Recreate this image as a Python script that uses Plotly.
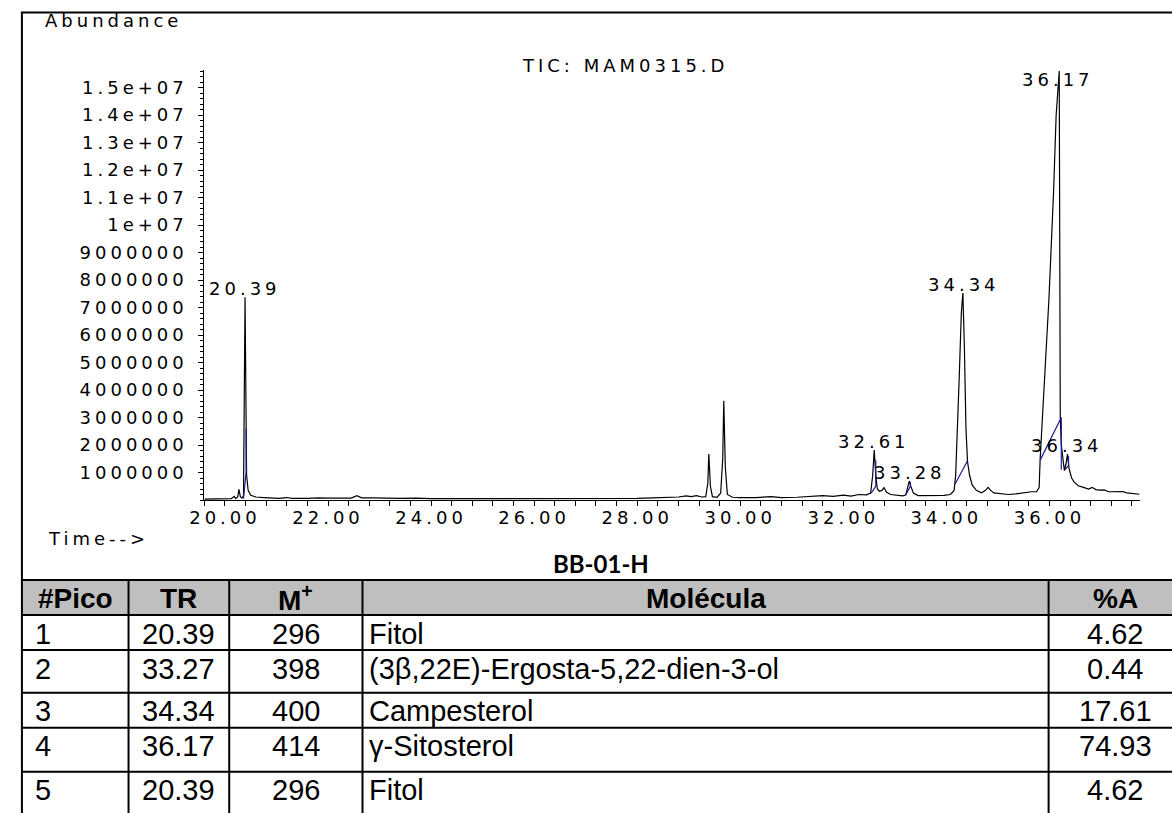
import plotly.graph_objects as go

W, H = 1172, 813

# ---------------- data ----------------
time_min = [19.60, 19.80, 20.00, 20.12, 20.18, 20.21, 20.25, 20.27, 20.30, 20.33,
            20.36, 20.39, 20.42, 20.45, 20.50, 20.60, 20.75, 20.90, 21.05, 21.20,
            21.30, 21.60, 21.80, 22.00, 22.20, 22.45, 22.56, 22.65, 22.90, 23.10,
            23.40, 23.70, 24.00, 24.50, 25.00, 25.50, 26.00, 26.50, 27.00, 27.50,
            28.00, 28.30, 28.60, 28.80, 28.95, 29.05, 29.15, 29.25, 29.33, 29.37,
            29.39, 29.42, 29.46, 29.55, 29.62, 29.66, 29.68, 29.71, 29.75, 29.85,
            30.00, 30.30, 30.60, 30.80, 31.10, 31.40, 31.60, 31.80, 32.00, 32.15,
            32.30, 32.45, 32.53, 32.57, 32.60, 32.63, 32.66, 32.70, 32.75, 32.79,
            32.84, 32.92, 33.05, 33.15, 33.21, 33.25, 33.28, 33.31, 33.36, 33.45,
            33.60, 33.80, 33.95, 34.08, 34.15, 34.18, 34.21, 34.25, 34.29, 34.32,
            34.35, 34.38, 34.41, 34.45, 34.50, 34.58, 34.68, 34.76, 34.81, 34.86,
            34.92, 35.05, 35.20, 35.35, 35.45, 35.55, 35.65, 35.75, 35.80, 35.82,
            35.90, 35.99, 36.08, 36.13, 36.19, 36.20, 36.21, 36.23, 36.26, 36.29,
            36.32, 36.35, 36.38, 36.43, 36.48, 36.56, 36.66, 36.76, 36.83, 36.90,
            36.98, 37.06, 37.15, 37.25, 37.35, 37.42, 37.50, 37.60, 37.70, 37.75]
abundance = [0.03e6, 0.04e6, 0.05e6, 0.05e6, 0.13e6, 0.05e6, 0.12e6, 0.39e6, 0.12e6, 0.07e6,
             0.15e6, 7.37e6, 0.90e6, 0.35e6, 0.17e6, 0.11e6, 0.09e6, 0.08e6, 0.06e6, 0.09e6,
             0.06e6, 0.06e6, 0.08e6, 0.07e6, 0.08e6, 0.07e6, 0.16e6, 0.08e6, 0.08e6, 0.07e6,
             0.06e6, 0.07e6, 0.05e6, 0.05e6, 0.05e6, 0.05e6, 0.05e6, 0.06e6, 0.06e6, 0.06e6,
             0.06e6, 0.08e6, 0.09e6, 0.11e6, 0.15e6, 0.12e6, 0.16e6, 0.11e6, 0.12e6, 0.60e6,
             1.67e6, 0.50e6, 0.12e6, 0.10e6, 0.25e6, 1.50e6, 3.61e6, 1.20e6, 0.20e6, 0.10e6,
             0.09e6, 0.09e6, 0.12e6, 0.09e6, 0.10e6, 0.12e6, 0.16e6, 0.13e6, 0.18e6, 0.14e6,
             0.20e6, 0.19e6, 0.25e6, 0.90e6, 1.82e6, 0.90e6, 0.40e6, 0.32e6, 0.35e6, 0.45e6,
             0.28e6, 0.20e6, 0.18e6, 0.15e6, 0.18e6, 0.45e6, 0.69e6, 0.50e6, 0.25e6, 0.16e6,
             0.16e6, 0.15e6, 0.17e6, 0.20e6, 0.35e6, 0.90e6, 2.20e6, 4.50e6, 6.80e6, 7.53e6,
             5.50e6, 2.60e6, 1.40e6, 0.90e6, 0.55e6, 0.35e6, 0.26e6, 0.35e6, 0.46e6, 0.35e6,
             0.26e6, 0.22e6, 0.20e6, 0.22e6, 0.25e6, 0.27e6, 0.30e6, 0.30e6, 0.45e6, 1.50e6,
             4.40e6, 7.30e6, 11.2e6, 14.0e6, 15.6e6, 9.00e6, 3.00e6, 2.00e6, 1.40e6, 1.07e6,
             1.30e6, 1.67e6, 1.15e6, 0.80e6, 0.65e6, 0.52e6, 0.46e6, 0.40e6, 0.46e6, 0.38e6,
             0.36e6, 0.37e6, 0.30e6, 0.30e6, 0.29e6, 0.31e6, 0.26e6, 0.24e6, 0.22e6, 0.21e6]

# integration baselines (blue), segments separated by None
integ_time = [20.36, 20.41, 20.41, None,
              32.54, 32.63, 32.63, None,
              33.21, 33.30, 33.30, None,
              34.17, 34.41, None,
              35.82, 36.23, 36.23, None,
              36.30, 36.37, 36.37]
integ_abund = [0.05e6, 1.00e6, 2.60e6, None,
               0.25e6, 0.50e6, 1.45e6, None,
               0.18e6, 0.50e6, 0.66e6, None,
               0.58e6, 1.43e6, None,
               1.45e6, 3.00e6, 1.10e6, None,
               1.10e6, 1.25e6, 1.60e6]

peak_labels = ["20.39", "32.61", "33.28", "34.34", "36.17", "36.34"]
peak_label_time = [20.39, 32.60, 33.29, 34.35, 36.16, 36.35]
peak_label_abund = [7.37e6, 1.82e6, 0.69e6, 7.53e6, 15.6e6, 1.67e6]

y_tick_vals = [1e6, 2e6, 3e6, 4e6, 5e6, 6e6, 7e6, 8e6, 9e6, 10e6, 11e6, 12e6, 13e6, 14e6, 15e6]
y_tick_text = ["1000000", "2000000", "3000000", "4000000", "5000000", "6000000",
               "7000000", "8000000", "9000000", "1e+07", "1.1e+07", "1.2e+07",
               "1.3e+07", "1.4e+07", "1.5e+07"]
x_tick_vals = [20, 22, 24, 26, 28, 30, 32, 34, 36]
x_tick_text = ["20.00", "22.00", "24.00", "26.00", "28.00", "30.00", "32.00", "34.00", "36.00"]

chart_title = "TIC: MAM0315.D"
y_label = "Abundance"
x_label = "Time-->"
sample_name = "BB-01-H"

table_header = ["#Pico", "TR", "M<sup>+</sup>", "Molécula", "%A"]
col_pico = ["1", "2", "3", "4", "5"]
col_tr = ["20.39", "33.27", "34.34", "36.17", "20.39"]
col_mplus = ["296", "398", "400", "414", "296"]
col_molecula = ["Fitol", "(3β,22E)-Ergosta-5,22-dien-3-ol", "Campesterol", "γ-Sitosterol", "Fitol"]
col_area = ["4.62", "0.44", "17.61", "74.93", "4.62"]

# ---------------- layout geometry (pixels) ----------------
def px(x):
    return x / W

def py(y):
    return 1 - y / H

def wide(s):
    # the chromatogram text is horizontally stretched in the source image
    return '<span style="letter-spacing:4px">' + s + '</span>'

PLOT_L, PLOT_R, PLOT_T, PLOT_B = 191.8, 1139.2, 70, 500
CHART_FONT = dict(family="DejaVu Sans", size=18, color="black")
TABLE_FONT = "Liberation Sans"

fig = go.Figure()
fig.add_trace(go.Scatter(x=time_min, y=abundance, mode="lines",
                         line=dict(color="black", width=1.2), hoverinfo="skip",
                         showlegend=False))
fig.add_trace(go.Scatter(x=integ_time, y=integ_abund, mode="lines",
                         line=dict(color="#1a1a9c", width=1.2), hoverinfo="skip",
                         showlegend=False, connectgaps=False))

annotations = []
for lbl, t, a in zip(peak_labels, peak_label_time, peak_label_abund):
    at_top = a >= 15.0e6
    annotations.append(dict(x=t, y=a, xref="x", yref="y", text=wide(lbl), showarrow=False,
                            xanchor="center", yanchor="top" if at_top else "bottom",
                            yshift=4 if at_top else -4, font=CHART_FONT))

annotations += [
    dict(x=px(28), y=py(21), xref="paper", yref="paper", text=wide(y_label), showarrow=False,
         xanchor="left", yanchor="middle", font=CHART_FONT),
    dict(x=px(618), y=py(65), xref="paper", yref="paper", text=wide(chart_title), showarrow=False,
         xanchor="center", yanchor="middle", font=CHART_FONT),
    dict(x=px(31), y=py(538), xref="paper", yref="paper", text=wide(x_label), showarrow=False,
         xanchor="left", yanchor="middle", font=CHART_FONT),
    dict(x=px(594), y=py(563), xref="paper", yref="paper", text="<b>" + sample_name + "</b>",
         showarrow=False, xanchor="center", yanchor="middle",
         font=dict(family="Lato", size=24, color="black")),
]

# table geometry
col_x = [7, 115, 217, 352, 1047, 1182]
row_y = [580, 615, 650, 692.7, 727.7, 771.7, 813]

shapes = []
shapes.append(dict(type="rect", xref="paper", yref="paper", x0=px(col_x[0]), x1=px(col_x[-1] + 10),
                   y0=py(row_y[0]), y1=py(row_y[1]), fillcolor="#bfbfbf", line=dict(width=0),
                   layer="below"))
for y in row_y[:-1]:
    shapes.append(dict(type="line", xref="paper", yref="paper", x0=px(col_x[0]), x1=px(col_x[-1] + 10),
                       y0=py(y), y1=py(y), line=dict(color="black", width=2)))
for x in col_x[1:-1]:
    shapes.append(dict(type="line", xref="paper", yref="paper", x0=px(x), x1=px(x),
                       y0=py(row_y[0]), y1=py(row_y[-1] + 5), line=dict(color="black", width=2)))
# outer frame
shapes.append(dict(type="line", xref="paper", yref="paper", x0=px(7), x1=px(7),
                   y0=py(12), y1=py(H + 5), line=dict(color="black", width=2)))
shapes.append(dict(type="line", xref="paper", yref="paper", x0=px(6), x1=px(W + 5),
                   y0=py(12.5), y1=py(12.5), line=dict(color="black", width=2)))

hdr_font = dict(family=TABLE_FONT, size=28, color="black")
for i, h in enumerate(table_header):
    cx = (col_x[i] + col_x[i + 1]) / 2
    annotations.append(dict(x=px(cx), y=py(598), xref="paper", yref="paper",
                            text="<b>" + h + "</b>", showarrow=False, xanchor="center",
                            yanchor="middle", font=hdr_font))

body_font = dict(family=TABLE_FONT, size=29, color="black")
for r in range(5):
    cy = row_y[r + 1] + 18.5
    cells = [col_pico[r], col_tr[r], col_mplus[r], col_molecula[r], col_area[r]]
    for c, txt in enumerate(cells):
        if c in (0, 3):
            x = col_x[c] + (11 if c == 0 else 5)
            xa = "left"
        else:
            x = (col_x[c] + col_x[c + 1]) / 2
            xa = "center"
        annotations.append(dict(x=px(x), y=py(cy), xref="paper", yref="paper", text=txt,
                                showarrow=False, xanchor=xa, yanchor="middle", font=body_font))

fig.update_layout(
    width=W, height=H, margin=dict(l=0, r=0, t=0, b=0),
    paper_bgcolor="white", plot_bgcolor="white", showlegend=False,
    xaxis=dict(domain=[px(PLOT_L), px(PLOT_R)], range=[19.6, 37.75], showline=True,
               linecolor="black", linewidth=1, ticks="outside", ticklen=5, tickcolor="black",
               tickvals=x_tick_vals, ticktext=[wide(t) for t in x_tick_text], tickfont=CHART_FONT,
               showgrid=False, zeroline=False, ticklabelstandoff=-4,
               minor=dict(tick0=20, dtick=0.4, ticks="outside", ticklen=5, tickcolor="black",
                          showgrid=False)),
    yaxis=dict(domain=[py(PLOT_B), py(PLOT_T)], range=[0, 15.64e6], showline=True,
               linecolor="black", linewidth=1, ticks="outside", ticklen=5, tickcolor="black",
               tickvals=y_tick_vals, ticktext=[wide(t) for t in y_tick_text], tickfont=CHART_FONT,
               showgrid=False, zeroline=False, ticklabelstandoff=7,
               minor=dict(tick0=0, dtick=2e5, ticks="outside", ticklen=3, tickcolor="black",
                          showgrid=False)),
    annotations=annotations, shapes=shapes,
)

fig.write_html("out.html", config={"displayModeBar": False},
               post_script="document.body.style.margin='0px';document.body.style.overflow='hidden';")
